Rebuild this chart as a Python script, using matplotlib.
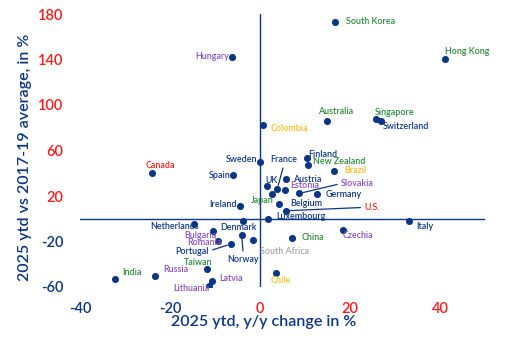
import matplotlib
matplotlib.use("Agg")
import matplotlib.pyplot as plt

plt.rcParams['font.family'] = ['Lato', 'DejaVu Sans']
plt.rcParams['font.weight'] = 'semibold'

NAVY = '#0b3585'
RED = '#ff1a1a'
GREEN = '#2a8a3a'
YELLOW = '#f5bd1f'
PURPLE = '#8a4fbf'
GREY = '#a6a6a6'

countries = ['South Korea', 'Hong Kong', 'Hungary', 'Australia', 'Singapore', 'Switzerland',
             'Colombia', 'Canada', 'Sweden', 'France', 'Finland', 'New Zealand', 'Brazil',
             'Spain', 'UK', 'Austria', 'Estonia', 'Slovakia', 'Germany', 'Japan', 'Ireland',
             'Belgium', 'U.S.', 'Luxembourg', 'Netherlands', 'Denmark', 'Italy', 'Bulgaria',
             'Romania', 'Portugal', 'Norway', 'South Africa', 'China', 'Czechia', 'Taiwan',
             'India', 'Russia', 'Latvia', 'Lithuania', 'Chile']
ytd_yoy = [16.7, 41.2, -6.3, 14.8, 25.8, 26.8,
           0.7, -24.0, 0.1, 3.8, 10.5, 10.7, 16.4,
           -6.1, 1.6, 5.8, 5.6, 8.7, 12.7, 2.7, -4.4,
           4.3, 5.7, 1.8, -14.6, -3.8, 33.0, -10.4,
           -9.3, -6.4, -4.1, -1.5, 7.0, 18.5, -11.7,
           -32.2, -23.3, -10.7, -11.3, 3.6]
vs_2017_19 = [173.0, 140.8, 142.2, 86.3, 87.5, 85.7,
              82.5, 40.3, 49.7, 25.8, 53.5, 47.6, 42.0,
              38.3, 28.7, 34.7, 25.7, 22.2, 21.5, 21.8, 11.3,
              13.0, 7.0, 0.2, -4.6, -2.0, -2.2, -10.7,
              -19.8, -22.1, -13.9, -18.9, -16.5, -9.5, -43.8,
              -52.9, -50.5, -55.0, -59.0, -47.6]
region = ['asia', 'asia', 'cee', 'asia', 'asia', 'eu',
          'latam', 'na', 'eu', 'eu', 'eu', 'asia', 'latam',
          'eu', 'eu', 'eu', 'cee', 'cee', 'eu', 'asia', 'eu',
          'eu', 'na', 'eu', 'eu', 'eu', 'eu', 'cee',
          'cee', 'eu', 'eu', 'af', 'asia', 'cee', 'asia',
          'asia', 'cee', 'cee', 'cee', 'latam']
x_ticks = [-40, -20, 0, 20, 40]
y_ticks = [-60, -20, 20, 60, 100, 140, 180]

region_color = {'asia': GREEN, 'cee': PURPLE, 'eu': NAVY, 'latam': YELLOW,
                'na': RED, 'af': GREY}

# label placement (pixel offsets, horizontal alignment)
label_pos = {
    'South Korea': (11, 0, 'left'), 'Hong Kong': (0, 7, 'left'), 'Hungary': (-3, 0, 'right'),
    'Australia': (8.6, 8.6, 'center'), 'Singapore': (-1, 7, 'left'),
    'Switzerland': (2, -5.7, 'left'), 'Colombia': (7.7, -4, 'left'),
    'Canada': (8.7, 7.7, 'center'), 'Sweden': (-3, 3, 'right'), 'France': (7, 30, 'center'),
    'Finland': (1, 3.7, 'left'), 'New Zealand': (5, 3.3, 'left'), 'Brazil': (10, 0, 'left'),
    'Spain': (-2, 0, 'right'), 'UK': (-2, 5.7, 'left'), 'Austria': (6.7, 0, 'left'),
    'Estonia': (5, 3.6, 'left'), 'Slovakia': (42, 10, 'left'), 'Germany': (8.4, 0, 'left'),
    'Japan': (2, -6.6, 'right'), 'Ireland': (-3, 1, 'right'), 'Belgium': (11, 0, 'left'),
    'U.S.': (79, 3.4, 'left'), 'Luxembourg': (7.7, 2, 'left'),
    'Netherlands': (4.4, -3, 'right'), 'Denmark': (-4.4, -6.6, 'center'),
    'Italy': (7.7, -5.7, 'left'), 'Bulgaria': (3.4, -4.6, 'right'),
    'Romania': (3.4, -1, 'right'), 'Portugal': (-22.7, -7.3, 'right'),
    'Norway': (1.8, -25, 'center'), 'South Africa': (6.7, -11, 'left'),
    'China': (10, 0, 'left'), 'Czechia': (-1, -6, 'left'), 'Chile': (4, -7.6, 'center'),
    'Taiwan': (-9.3, 5.6, 'center'), 'Russia': (8.3, 6.7, 'left'),
    'India': (7.3, 6, 'left'), 'Latvia': (7, 2.7, 'left'), 'Lithuania': (0, -2.6, 'right'),
}
leaders = {'France': (0.5, 0.0), 'Slovakia': (0.0, 0.5), 'U.S.': (0.0, 0.5),
           'Portugal': (1.0, 0.5), 'Norway': (0.5, 1.0)}

fig = plt.figure(figsize=(5.15, 3.49), dpi=100)
ax = fig.add_axes([80 / 515, 1 - 287 / 349, 405 / 515, 273 / 349])
ax.set_xlim(-40, 50)
ax.set_ylim(-60, 180)
for s in ax.spines.values():
    s.set_visible(False)
ax.axhline(0, color=NAVY, lw=1.0, zorder=1)
ax.axvline(0, color=NAVY, lw=1.0, zorder=1)

ax.scatter(ytd_yoy, vs_2017_19, s=26, color=NAVY, zorder=3, linewidths=0)

for name, xv, yv, reg in zip(countries, ytd_yoy, vs_2017_19, region):
    dx, dy, ha = label_pos[name]
    kw = {}
    if name in leaders:
        kw['arrowprops'] = dict(arrowstyle='-', color=NAVY, lw=0.9, shrinkA=1, shrinkB=3,
                                relpos=leaders[name])
    ax.annotate(name, (xv, yv), xytext=(dx, dy), textcoords='offset pixels',
                ha=ha, va='center', fontsize=6.4, color=region_color[reg], zorder=4, **kw)

ax.set_xticks(x_ticks)
ax.set_yticks(y_ticks)
ax.set_xticklabels([str(t) for t in x_ticks])
ax.set_yticklabels([str(t) for t in y_ticks])
ax.tick_params(length=0, labelsize=10.5, pad=0)
ax.tick_params(axis='x', pad=11)
ax.tick_params(axis='y', pad=12)
for lab, t in zip(ax.get_xticklabels(), x_ticks):
    lab.set_color(RED if t >= 0 else NAVY)
for lab, t in zip(ax.get_yticklabels(), y_ticks):
    lab.set_color(RED if t >= 0 else NAVY)

fig.text(263.5 / 515, 1 - 322 / 349, '2025 ytd, y/y change in %', ha='center', va='center',
         fontsize=11.5, color=NAVY)
fig.text(25 / 515, 1 - 157.5 / 349, '2025 ytd vs 2017-19 average, in %', ha='center',
         va='center', rotation=90, fontsize=11.5, color=NAVY)

fig.savefig('out.png', dpi=100, facecolor='white')
